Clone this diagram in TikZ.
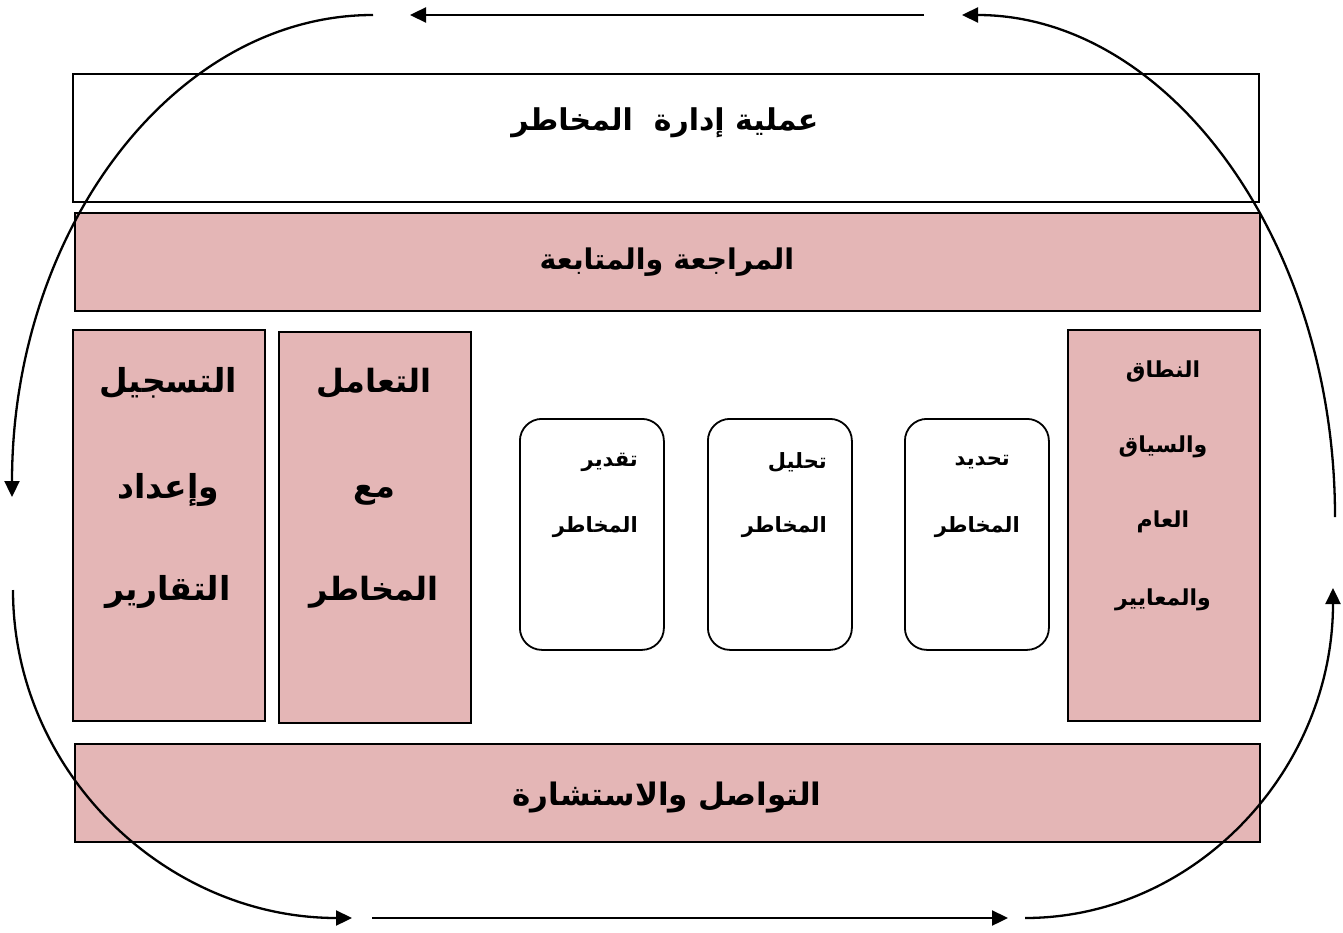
\documentclass[tikz,border=0pt]{standalone}
\usepackage{fontspec}
\newfontfamily\arabicfont[Script=Arabic]{DejaVu Sans}
\TeXXeTstate=1
\usetikzlibrary{arrows.meta}
\definecolor{boxpink}{RGB}{228,182,182}
\tikzset{
  plainbox/.style={draw=black, line width=1.8pt, fill=white, inner sep=0pt, anchor=north west},
  pinkbox/.style={draw=black, line width=1.8pt, fill=boxpink, inner sep=0pt, anchor=north west},
  roundbox/.style={draw=black, line width=1.8pt, fill=white, rounded corners=22pt, inner sep=0pt, anchor=north west},
  lbl/.style={inner sep=0pt, font=\arabicfont\bfseries},
  flow/.style={line width=2.3pt, -{Triangle[length=16pt,width=15pt]}},
}
\begin{document}
\begin{tikzpicture}[x=1pt,y=-1pt]
\useasboundingbox (0,0) rectangle (1343,933);
% boxes
\node[plainbox, minimum width=1186pt, minimum height=128pt] (title) at (72,73) {};
\node[pinkbox, minimum width=1185pt, minimum height=98pt] (review) at (74,212) {};
\node[pinkbox, minimum width=192pt, minimum height=391pt] (report) at (72,329) {};
\node[pinkbox, minimum width=192pt, minimum height=391pt] (treat) at (278,331) {};
\node[roundbox, minimum width=144pt, minimum height=231pt] (evalb) at (519,418) {};
\node[roundbox, minimum width=144pt, minimum height=231pt] (analb) at (707,418) {};
\node[roundbox, minimum width=144pt, minimum height=231pt] (identb) at (904,418) {};
\node[pinkbox, minimum width=192pt, minimum height=391pt] (scope) at (1067,329) {};
\node[pinkbox, minimum width=1185pt, minimum height=98pt] (comm) at (74,743) {};
% texts
\node[lbl, font=\arabicfont\bfseries\fontsize{30}{34}\selectfont] (titletxt) at (665,123) {\beginR عملية إدارة\ \ المخاطر\endR};
\node[lbl, font=\arabicfont\bfseries\fontsize{28.5}{34}\selectfont] (reviewtxt) at (667,262) {\beginR المراجعة والمتابعة\endR};
\node[lbl, font=\arabicfont\bfseries\fontsize{31}{34}\selectfont] (commtxt) at (667,797) {\beginR التواصل والاستشارة\endR};
% left column
\node[lbl, font=\arabicfont\bfseries\fontsize{33}{36}\selectfont] (rep1) at (168,383) {\beginR التسجيل\endR};
\node[lbl, font=\arabicfont\bfseries\fontsize{33}{36}\selectfont] (rep2) at (168,490) {\beginR وإعداد\endR};
\node[lbl, font=\arabicfont\bfseries\fontsize{33}{36}\selectfont] (rep3) at (168,592) {\beginR التقارير\endR};
% second column
\node[lbl, font=\arabicfont\bfseries\fontsize{32}{36}\selectfont] (tr1) at (374,383) {\beginR التعامل\endR};
\node[lbl, font=\arabicfont\bfseries\fontsize{32}{36}\selectfont] (tr2) at (374,495) {\beginR مع\endR};
\node[lbl, font=\arabicfont\bfseries\fontsize{32}{36}\selectfont] (tr3) at (374,592) {\beginR المخاطر\endR};
% right column
\node[lbl, font=\arabicfont\bfseries\fontsize{22}{26}\selectfont] (sc1) at (1163,372) {\beginR النطاق\endR};
\node[lbl, font=\arabicfont\bfseries\fontsize{22}{26}\selectfont] (sc2) at (1163,447) {\beginR والسياق\endR};
\node[lbl, font=\arabicfont\bfseries\fontsize{22}{26}\selectfont] (sc3) at (1163,522) {\beginR العام\endR};
\node[lbl, font=\arabicfont\bfseries\fontsize{22}{26}\selectfont] (sc4) at (1163,600) {\beginR والمعايير\endR};
% rounded boxes
\node[lbl, anchor=east, font=\arabicfont\bfseries\fontsize{21}{24}\selectfont] (ev1) at (638,462) {\beginR تقدير\endR};
\node[lbl, anchor=east, font=\arabicfont\bfseries\fontsize{21}{24}\selectfont] (ev2) at (638,527) {\beginR المخاطر\endR};
\node[lbl, anchor=east, font=\arabicfont\bfseries\fontsize{21}{24}\selectfont] (an1) at (827,462) {\beginR تحليل\endR};
\node[lbl, anchor=east, font=\arabicfont\bfseries\fontsize{21}{24}\selectfont] (an2) at (827,527) {\beginR المخاطر\endR};
\node[lbl, anchor=east, font=\arabicfont\bfseries\fontsize{21}{24}\selectfont] (id1) at (1010,462) {\beginR تحديد\endR};
\node[lbl, anchor=east, font=\arabicfont\bfseries\fontsize{21}{24}\selectfont] (id2) at (1020,527) {\beginR المخاطر\endR};
% cycle arrows
\coordinate (tl1) at (373,15);  \coordinate (tl2) at (12,497);
\coordinate (tm1) at (924,15);  \coordinate (tm2) at (410,15);
\coordinate (tr1c) at (1335,517); \coordinate (tr2c) at (962,15);
\coordinate (bl1) at (13,590);  \coordinate (bl2) at (352,918);
\coordinate (bm1) at (372,918); \coordinate (bm2) at (1008,918);
\coordinate (br1) at (1025,918); \coordinate (br2) at (1333,588);
\draw[flow] (tm1) -- (tm2);
\draw[flow] (tr1c) .. controls (1335,240) and (1168,15) .. (tr2c);
\draw[flow] (tl1) .. controls (173.6,15) and (12,230.8) .. (tl2);
\draw[flow] (bl1) .. controls (13,771.2) and (164.8,918) .. (bl2);
\draw[flow] (bm1) -- (bm2);
\draw[flow] (br1) .. controls (1195.1,918) and (1333,770.3) .. (br2);
\end{tikzpicture}
\end{document}
